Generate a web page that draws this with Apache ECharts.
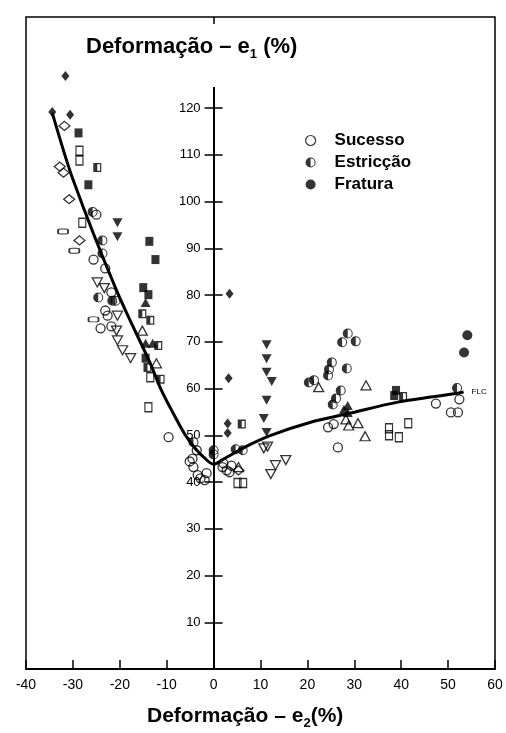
<!DOCTYPE html>
<html>
<head>
<meta charset="utf-8">
<script src="https://cdn.jsdelivr.net/npm/echarts@6/dist/echarts.min.js"></script>
<style>
  html, body { margin: 0; padding: 0; background: #fff; }
  #chart { width: 506px; height: 733px; }
</style>
</head>
<body>
<div id="chart"></div>
<script>
// Axis ticks
const xTicks = [-40, -30, -20, -10, 0, 10, 20, 30, 40, 50, 60];
const yTicks = [10, 20, 30, 40, 50, 60, 70, 80, 90, 100, 110, 120];

// Forming limit curve (e2, e1)
const flcCurve = [
  [-34.4, 119.0], [-29.9, 104.5], [-20.7, 81.0], [-13.5, 65.4], [-11.3, 60.0],
  [-8.5, 54.5], [-6.0, 50.0], [-4.0, 47.3], [-2.0, 45.2], [0, 43.8], [2.1, 44.9],
  [7.3, 47.8], [12.2, 50.0], [20.7, 52.8], [28.6, 54.6], [39.3, 57.1], [52.1, 59.0],
  [53.3, 59.3]
];

// Measured strains, grouped by marker shape and result
const sucessoCirculo = [
  [-25.0, 97.2], [-25.6, 87.6], [-23.1, 85.7], [-21.8, 80.6], [-23.1, 76.7],
  [-22.6, 75.6], [-21.8, 73.3], [-24.1, 72.9], [-3.6, 46.8], [-4.5, 45.0],
  [-5.1, 44.4], [-4.3, 43.2], [-3.4, 41.5], [-2.8, 40.8], [-1.9, 40.4],
  [-1.5, 41.9], [1.9, 43.2], [2.8, 42.5], [3.4, 42.1], [2.1, 44.0], [3.8, 43.5],
  [-9.6, 49.6], [24.4, 51.7], [25.6, 52.4], [26.5, 47.4], [47.4, 56.8],
  [52.4, 57.7], [50.6, 54.9], [52.1, 54.9]
];
const estriccaoCirculo = [
  [-25.8, 97.8], [-23.7, 91.7], [-23.7, 88.9], [-24.6, 79.5], [-21.6, 78.8],
  [-20.9, 78.8], [-4.3, 48.5], [0, 46.8], [0, 45.9], [4.7, 47.0], [6.2, 46.8],
  [28.6, 71.8], [27.4, 69.9], [30.3, 70.1], [25.2, 65.6], [24.6, 64.1],
  [24.4, 62.8], [28.4, 64.3], [20.3, 61.3], [21.4, 61.8], [25.4, 56.6],
  [26.1, 57.9], [27.1, 59.6], [51.9, 60.1]
];
const fraturaCirculo = [[54.1, 71.4], [53.4, 67.7]];

const sucessoTrianguloBaixo = [
  [-24.8, 82.7], [-23.3, 81.5], [-20.5, 75.6], [-20.7, 72.4], [-20.5, 70.3],
  [-19.4, 68.2], [-17.7, 66.5], [10.7, 47.2], [11.5, 47.6], [13.2, 43.6],
  [15.4, 44.7], [12.2, 41.7]
];
const fraturaTrianguloBaixo = [
  [-20.5, 95.5], [-20.5, 92.5], [11.3, 69.4], [11.3, 66.4], [11.3, 63.5],
  [12.4, 61.5], [11.3, 57.5], [10.7, 53.6], [11.3, 50.6]
];
const sucessoTrianguloCima = [
  [-15.2, 72.4], [-12.2, 65.4], [5.3, 43.2], [22.4, 60.3], [32.5, 60.7],
  [28.2, 53.4], [28.8, 52.1], [30.8, 52.6], [32.3, 49.8]
];
const fraturaTrianguloCima = [
  [-14.5, 78.4], [-14.5, 69.7], [-13.0, 69.7], [28.6, 56.4], [28.6, 54.9], [27.8, 55.6]
];
const sucessoLosango = [
  [-31.8, 116.2], [-32.8, 107.5], [-32.0, 106.2], [-30.8, 100.5], [-28.6, 91.7], [5.3, 42.5]
];
const fraturaLosango = [
  [-31.6, 126.9], [-30.6, 118.6], [3.2, 62.2], [3.4, 80.3], [3.0, 52.5], [3.0, 50.5], [-34.4, 119.2]
];
const sucessoQuadrado = [
  [-28.6, 110.9], [-28.6, 108.8], [-28.0, 95.5], [-13.5, 62.4], [-13.9, 56.0],
  [5.1, 39.8], [6.3, 39.8], [41.5, 52.6], [37.4, 51.5], [37.4, 50.0], [39.5, 49.6]
];
const fraturaQuadrado = [
  [-28.8, 114.7], [-26.7, 103.6], [-13.7, 91.5], [-12.4, 87.6], [-15.0, 81.6],
  [-13.9, 80.1], [-14.5, 66.5], [38.9, 59.6], [38.5, 58.5]
];
const estriccaoQuadrado = [
  [-24.8, 107.3], [-15.2, 76.0], [-13.5, 74.6], [-11.8, 69.2], [-14.1, 64.5],
  [-11.3, 62.0], [6.0, 52.4], [40.4, 58.3]
];
const sucessoOval = [[-32.1, 93.6], [-29.7, 89.5], [-25.6, 74.8]];

// Marker shapes
const HALF_CIRCLE = 'path://M10,0A10,10,0,1,1,10,20A10,10,0,1,1,10,0ZM10,2L10,18A8,8,0,0,0,10,2Z';
const HALF_SQUARE = 'path://M0,0L20,0L20,20L0,20ZM10,3L10,17L17,17L17,3Z';
const TRI_DOWN = 'path://M0,0L20,0L10,18Z';
const TRI_UP = 'path://M10,0L20,18L0,18Z';

const FONT = '"Liberation Sans", Arial, sans-serif';

// Plot box and the x position of e2 = 0, where the e1 axis stands
const GRID = { left: 26, right: 11, top: 17, bottom: 64 };
const CHART_W = 506;
const X_MIN = -40, X_MAX = 60;
const zeroOffset = (0 - X_MIN) / (X_MAX - X_MIN) * (CHART_W - GRID.left - GRID.right);

function openMarks(name, data, symbol, size) {
  return {
    type: 'scatter', name, data, symbol, symbolSize: size, z: 4, silent: true,
    itemStyle: { color: 'rgba(255,255,255,0)', borderColor: '#000', borderWidth: 1.3 }
  };
}
function solidMarks(name, data, symbol, size) {
  return {
    type: 'scatter', name, data, symbol, symbolSize: size, z: 5, silent: true,
    itemStyle: { color: '#000', borderWidth: 0 }
  };
}

const chart = echarts.init(document.getElementById('chart'), null, { renderer: 'canvas' });

chart.setOption({
  animation: false,
  backgroundColor: '#fff',
  grid: {
    left: GRID.left, right: GRID.right, top: GRID.top, bottom: GRID.bottom,
    outerBoundsMode: 'none', containLabel: false,
    show: true, borderColor: '#000', borderWidth: 1.5, backgroundColor: 'transparent'
  },
  xAxis: [{
    type: 'value', min: X_MIN, max: X_MAX, interval: 10, position: 'bottom',
    splitLine: { show: false },
    axisLine: { onZero: false, lineStyle: { color: '#000', width: 2 } },
    axisTick: { inside: true, length: 9, lineStyle: { color: '#000', width: 1.5 } },
    axisLabel: {
      color: '#000', fontFamily: FONT, fontSize: 14, margin: 9,
      customValues: xTicks
    }
  }, {
    type: 'value', min: X_MIN, max: X_MAX, position: 'top',
    splitLine: { show: false },
    axisLine: { show: false, onZero: false },
    axisTick: { inside: true, length: 7, customValues: [0], lineStyle: { color: '#000', width: 1.5 } },
    axisLabel: { show: false }
  }],
  yAxis: [{
    type: 'value', min: 0, max: 139.5, position: 'left', offset: -zeroOffset,
    splitLine: { show: false },
    axisLine: { show: false, onZero: false },
    axisTick: { inside: false, length: 9, customValues: yTicks, lineStyle: { color: '#000', width: 1.5 } },
    axisLabel: {
      color: '#000', fontFamily: FONT, fontSize: 13, margin: 13,
      customValues: yTicks
    }
  }, {
    type: 'value', min: 0, max: 139.5, position: 'left', offset: -zeroOffset,
    splitLine: { show: false },
    axisLine: { show: false, onZero: false },
    axisTick: { inside: true, length: 9, customValues: yTicks, lineStyle: { color: '#000', width: 1.5 } },
    axisLabel: { show: false }
  }],
  legend: {
    orient: 'vertical', left: 300, top: 127, itemWidth: 10, itemHeight: 10, itemGap: 5,
    selectedMode: false,
    textStyle: { color: '#000', fontFamily: FONT, fontSize: 17, fontWeight: 'bold', lineHeight: 17, padding: [0, 0, 0, 14] },
    data: [
      { name: 'Sucesso', icon: 'circle', itemStyle: { color: '#fff', borderColor: '#000', borderWidth: 1.2 } },
      { name: 'Estricção', icon: HALF_CIRCLE, itemStyle: { color: '#000', borderWidth: 0 } },
      { name: 'Fratura', icon: 'circle', itemStyle: { color: '#000', borderWidth: 0 } }
    ]
  },
  graphic: [{
    type: 'text', left: 86, top: 36, z: 10,
    style: {
      text: '{a|Deformação – e}{s|1}{a| (%)}',
      rich: {
        a: { fontFamily: FONT, fontSize: 22, fontWeight: 'bold', fill: '#000', verticalAlign: 'bottom' },
        s: { fontFamily: FONT, fontSize: 13, fontWeight: 'bold', fill: '#000', verticalAlign: 'bottom', padding: [0, 0, -3, 0] }
      }
    }
  }, {
    type: 'text', left: 147, top: 706, z: 10,
    style: {
      text: '{a|Deformação – e}{s|2}{a|(%)}',
      rich: {
        a: { fontFamily: FONT, fontSize: 21, fontWeight: 'bold', fill: '#000', verticalAlign: 'bottom' },
        s: { fontFamily: FONT, fontSize: 13, fontWeight: 'bold', fill: '#000', verticalAlign: 'bottom', padding: [0, 0, -3, 0] }
      }
    }
  }],
  series: [
    {
      type: 'line', name: 'FLC', data: flcCurve, smooth: 0.3, symbol: 'none', z: 3, silent: true,
      lineStyle: { color: '#000', width: 3 },
      endLabel: { show: true, formatter: 'FLC', fontFamily: FONT, fontSize: 8, color: '#000', distance: 8 },
      markLine: {
        silent: true, symbol: 'none', animation: false,
        label: { show: false },
        lineStyle: { color: '#000', width: 2, type: 'solid' },
        data: [[{ coord: [0, 0] }, { coord: [0, 124.5] }]]
      }
    },
    openMarks('Sucesso', sucessoCirculo, 'circle', 9),
    solidMarks('Estricção', estriccaoCirculo, HALF_CIRCLE, 10),
    solidMarks('Fratura', fraturaCirculo, 'circle', 10),
    openMarks('Sucesso ▽', sucessoTrianguloBaixo, TRI_DOWN, [10, 9]),
    solidMarks('Fratura ▼', fraturaTrianguloBaixo, TRI_DOWN, [10, 9]),
    openMarks('Sucesso △', sucessoTrianguloCima, TRI_UP, [10, 9]),
    solidMarks('Fratura ▲', fraturaTrianguloCima, TRI_UP, [10, 9]),
    openMarks('Sucesso ◇', sucessoLosango, 'diamond', [11, 9]),
    solidMarks('Fratura ◆', fraturaLosango, 'diamond', [8, 10]),
    openMarks('Sucesso □', sucessoQuadrado, 'rect', [7, 9]),
    solidMarks('Fratura ■', fraturaQuadrado, 'rect', [8, 9]),
    solidMarks('Estricção ◧', estriccaoQuadrado, HALF_SQUARE, [8, 9]),
    openMarks('Sucesso ⬭', sucessoOval, 'roundRect', [10, 5])
  ]
});
</script>
</body>
</html>
